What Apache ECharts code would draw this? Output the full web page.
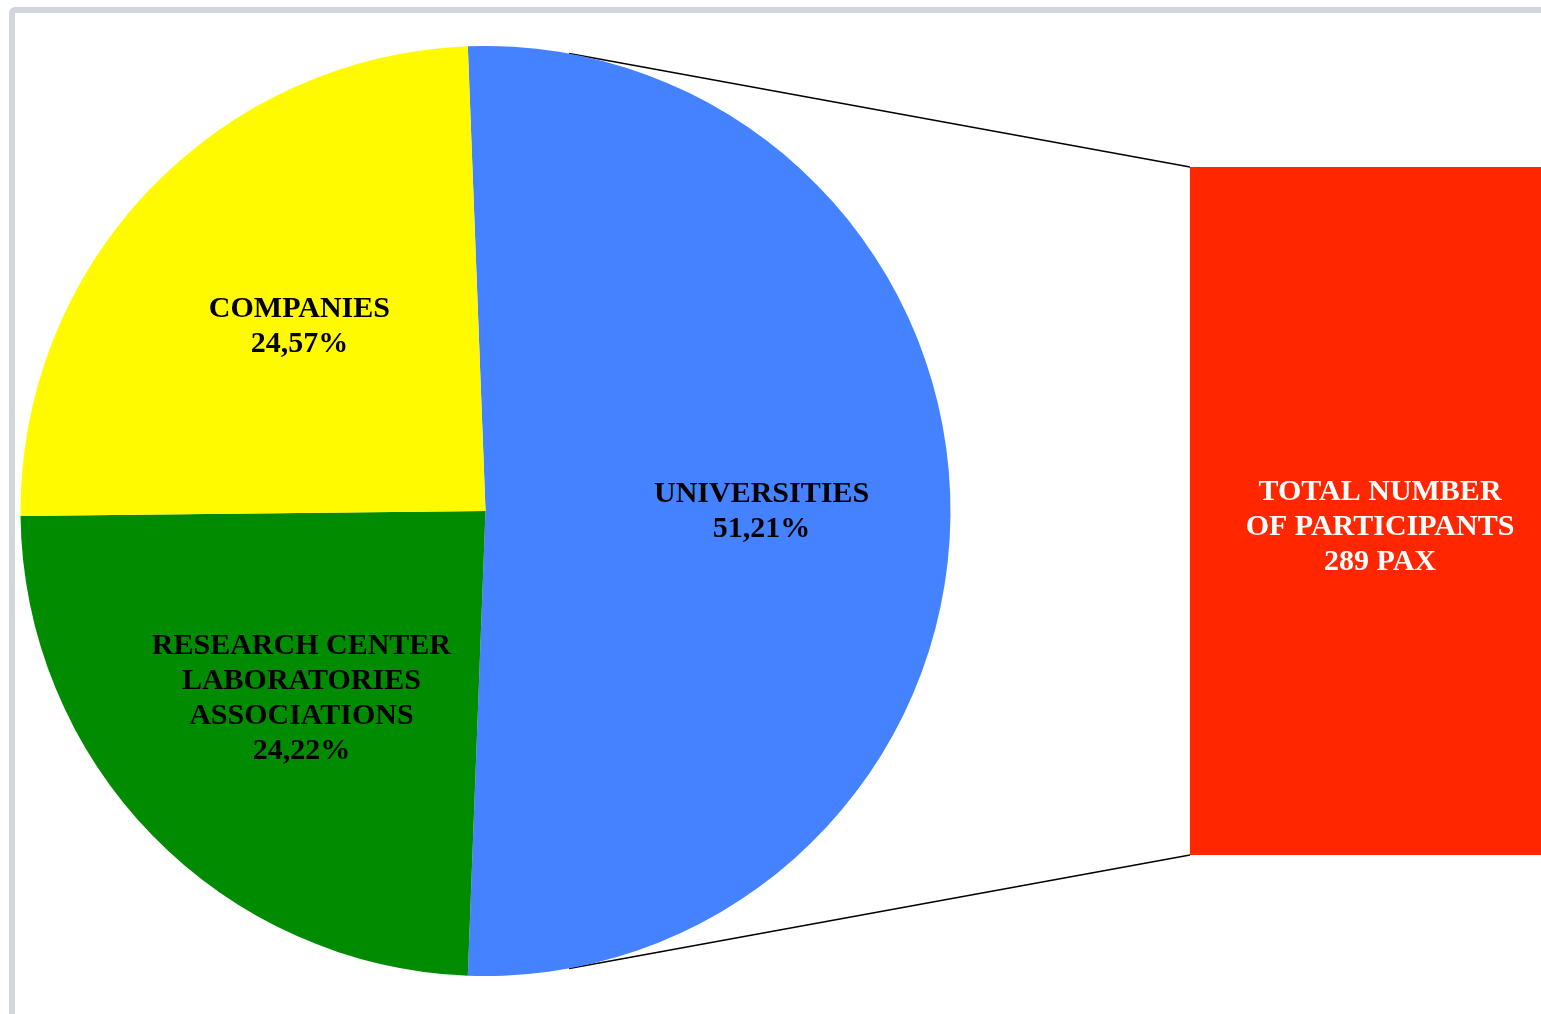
<!DOCTYPE html>
<html>
<head>
<meta charset="utf-8">
<script src="https://cdn.jsdelivr.net/npm/echarts@6/dist/echarts.min.js"></script>
<style>
  html, body { margin: 0; padding: 0; width: 1541px; height: 1014px; overflow: hidden; background: #ffffff; }
  #frame { position: absolute; left: 9px; top: 7px; width: 2000px; height: 2000px; border: 6px solid #d1d5dc; border-radius: 6px; box-sizing: border-box; }
  #chart { position: absolute; left: 0; top: 0; width: 1541px; height: 1014px; }
</style>
</head>
<body>
<div id="frame"></div>
<div id="chart"></div>
<script>
// ---- data ----
const categories = ['UNIVERSITIES', 'RESEARCH CENTER\nLABORATORIES\nASSOCIATIONS', 'COMPANIES'];
const participants = [148, 70, 71];
const barCategory = ['TOTAL'];
const barTitle = 'TOTAL NUMBER\nOF PARTICIPANTS';
const barUnit = 'PAX';

// ---- layout / style ----
const sliceColors = ['#4482ff', '#008b00', '#fffa00'];
const CX = 485.5, CY = 511, R = 465;
const BAR = { left: 1190, top: 167, width: 380, height: 688 };
const FONT = '"Liberation Serif", "Times New Roman", serif';

const total = participants.reduce((a, b) => a + b, 0);
const firstShare = participants[0] / total;
const startAngle = 90 + (firstShare * 360 - 180) / 2;

const pieData = categories.map((c, i) => ({ name: c, value: participants[i], itemStyle: { color: sliceColors[i] } }));
const pct = v => (v / total * 100).toFixed(2).replace('.', ',') + '%';

function tangent(px, py, upper) {
  const dx = px - CX, dy = CY - py;
  const d = Math.hypot(dx, dy);
  const th = Math.atan2(dy, dx);
  const a = Math.acos(R / d);
  const phi = upper ? th + a : th - a;
  return [CX + R * Math.cos(phi), CY - R * Math.sin(phi)];
}
const topCorner = [BAR.left, BAR.top];
const botCorner = [BAR.left, BAR.top + BAR.height];
const t1 = tangent(topCorner[0], topCorner[1], true);
const t2 = tangent(botCorner[0], botCorner[1], false);

const chart = echarts.init(document.getElementById('chart'), null, { renderer: 'canvas' });
chart.setOption({
  backgroundColor: 'transparent',
  animation: false,
  grid: { left: BAR.left, top: BAR.top, width: BAR.width, height: BAR.height, containLabel: false, outerBoundsMode: 'none' },
  xAxis: { type: 'category', data: barCategory, show: false },
  yAxis: { type: 'value', min: 0, max: total, show: false },
  graphic: [
    { type: 'line', shape: { x1: t1[0], y1: t1[1], x2: topCorner[0], y2: topCorner[1] }, style: { stroke: '#000', lineWidth: 1.5 }, z: 1 },
    { type: 'line', shape: { x1: t2[0], y1: t2[1], x2: botCorner[0], y2: botCorner[1] }, style: { stroke: '#000', lineWidth: 1.5 }, z: 1 }
  ],
  series: [
    {
      type: 'pie',
      center: [CX, CY],
      radius: [0, R],
      startAngle: startAngle,
      clockwise: true,
      avoidLabelOverlap: false,
      silent: true,
      label: { show: false },
      labelLine: { show: false },
      data: pieData,
      z: 2
    },
    {
      type: 'pie',
      center: [CX + 8, CY + 1],
      radius: [0, R * 1.14],
      startAngle: startAngle,
      clockwise: true,
      avoidLabelOverlap: false,
      silent: true,
      itemStyle: { color: 'rgba(0,0,0,0)' },
      label: {
        show: true,
        position: 'inside',
        formatter: p => p.name + '\n' + pct(p.value),
        color: '#000',
        fontFamily: FONT,
        fontWeight: 'bold',
        fontSize: 30,
        lineHeight: 35,
        align: 'center'
      },
      labelLine: { show: false },
      data: categories.map((c, i) => ({ name: c, value: participants[i] })),
      z: 3
    },
    {
      type: 'bar',
      data: [total],
      barWidth: '100%',
      itemStyle: { color: '#ff2600' },
      silent: true,
      label: {
        show: true,
        position: 'inside',
        offset: [0, 16],
        formatter: p => barTitle + '\n' + p.value + ' ' + barUnit,
        color: '#ffffff',
        fontFamily: FONT,
        fontWeight: 'bold',
        fontSize: 30,
        lineHeight: 35,
        align: 'center'
      }
    }
  ]
});
</script>
</body>
</html>
